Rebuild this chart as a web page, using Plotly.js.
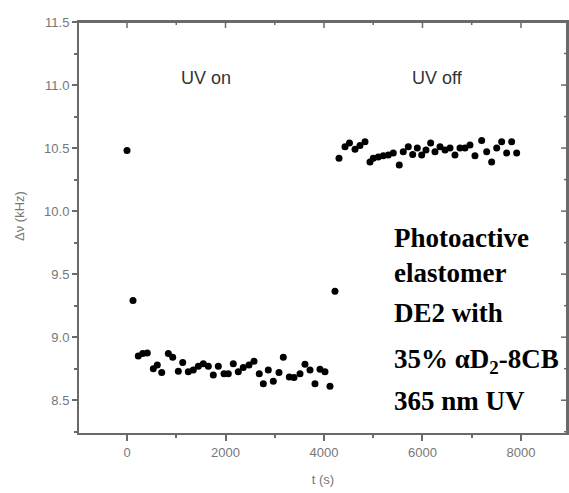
<!DOCTYPE html>
<html>
<head>
<meta charset="utf-8">
<script src="https://cdn.plot.ly/plotly-3.0.1.min.js"></script>
<style>html,body{margin:0;padding:0;background:#fff;}#chart{width:569px;height:493px;}#err{position:absolute;left:90px;top:420px;font:10px sans-serif;color:red;}</style>
</head>
<body>
<div id="chart"></div>
<div id="err"></div>
<script>
window.onerror = function (m) { document.getElementById('err').textContent += ' ERR:' + m; };
window.addEventListener('unhandledrejection', function (e) { document.getElementById('err').textContent += ' REJ:' + (e.reason && e.reason.message); });
// Time (s) and frequency splitting (kHz)
var timeS = [0,122,229,319,412,534,615,705,839,928,1042,1131,1245,1346,1448,1549,1651,1752,1854,1970,2057,2158,2260,2361,2477,2579,2686,2768,2869,2971,3086,3174,3296,3391,3513,3614,3716,3817,3919,4020,4122,
  4223,
  4305,4427,4518,4630,4731,4833,4934,5001,5103,5204,5306,5407,5529,5610,5712,5801,5895,5984,6071,6166,6254,6356,6457,6559,6660,6762,6863,6965,7066,7202,7304,7405,7507,7608,7710,7811,7913];
var deltaNu = [10.48,9.29,8.85,8.87,8.875,8.75,8.78,8.72,8.87,8.84,8.73,8.80,8.725,8.74,8.77,8.79,8.77,8.70,8.77,8.71,8.71,8.79,8.725,8.76,8.78,8.81,8.71,8.63,8.74,8.65,8.72,8.84,8.685,8.68,8.71,8.785,8.74,8.63,8.745,8.725,8.61,
  9.365,
  10.42,10.51,10.54,10.49,10.52,10.55,10.39,10.42,10.43,10.44,10.445,10.46,10.365,10.47,10.51,10.45,10.50,10.445,10.485,10.54,10.47,10.51,10.485,10.50,10.445,10.50,10.50,10.525,10.44,10.56,10.47,10.39,10.50,10.55,10.46,10.55,10.46];

// Tick values for the mirrored (inward) top and right ticks
var xMajorTicks = [0, 2000, 4000, 6000, 8000];
var xMinorTicks = [1000, 3000, 5000, 7000];
var yMajorTicks = [8.5, 9.0, 9.5, 10.0, 10.5, 11.0, 11.5];
var yMinorTicks = [8.25, 8.75, 9.25, 9.75, 10.25, 10.75, 11.25];

var xTitle = 't (s)';
var yTitle = 'Δν (kHz)';
var labelOn = 'UV on';
var labelOff = 'UV off';
var infoLines = ['Photoactive', 'elastomer', 'DE2 with', '35% αD<sub>2</sub>-8CB', '365 nm UV'];
var infoY = [9.786, 9.508, 9.19, 8.81, 8.492];

var axisColor = '#6a6a6a';
var tickFont = {family: 'Liberation Sans, Arial, sans-serif', size: 13, color: '#777'};
var xr = [-975, 8935], yr = [8.24, 11.5];
var plotW = 488, plotH = 411;

var traces = [
  {x: timeS, y: deltaNu, type: 'scatter', mode: 'markers',
   marker: {color: '#000', size: 7}, hoverinfo: 'x+y'}
];

var annotations = [
  {text: labelOn, x: 1604, y: 11.056, xref: 'x', yref: 'y', showarrow: false,
   font: {family: 'Liberation Sans, Arial, sans-serif', size: 18, color: '#333'}},
  {text: labelOff, x: 6295, y: 11.056, xref: 'x', yref: 'y', showarrow: false,
   font: {family: 'Liberation Sans, Arial, sans-serif', size: 18, color: '#333'}},
  {text: yTitle, x: -0.121, y: 0.528, xref: 'paper', yref: 'paper', xanchor: 'center', yanchor: 'middle',
   showarrow: false, textangle: -90,
   font: {family: 'Liberation Sans, Arial, sans-serif', size: 13, color: '#777'}}
];
infoLines.forEach(function (t, i) {
  annotations.push({text: '<b>' + t + '</b>', x: 5380, y: infoY[i], xref: 'x', yref: 'y',
    xanchor: 'left', yanchor: 'middle', showarrow: false,
    font: {family: 'Liberation Serif, Times New Roman, serif', size: 27, color: '#000'}});
});

var shapes = [
  {type: 'line', xref: 'paper', yref: 'paper', x0: 0, x1: 1, y0: 1, y1: 1, line: {color: axisColor, width: 2}},
  {type: 'line', xref: 'paper', yref: 'paper', x0: 1, x1: 1, y0: 0, y1: 1, line: {color: axisColor, width: 2}}
];
function topTick(v, len) {
  shapes.push({type: 'line', xref: 'x', yref: 'paper', x0: v, x1: v, y0: 1, y1: 1 - len / plotH,
    line: {color: axisColor, width: 1.5}});
}
function rightTick(v, len) {
  shapes.push({type: 'line', xref: 'paper', yref: 'y', x0: 1, x1: 1 - len / plotW, y0: v, y1: v,
    line: {color: axisColor, width: 1.5}});
}
xMajorTicks.forEach(function (v) { topTick(v, 6); });
xMinorTicks.forEach(function (v) { topTick(v, 3); });
yMajorTicks.forEach(function (v) { rightTick(v, 6); });
yMinorTicks.forEach(function (v) { rightTick(v, 3); });

var layout = {
  width: 569, height: 493,
  margin: {l: 79, r: 2, t: 22, b: 60, pad: 0},
  paper_bgcolor: '#fff', plot_bgcolor: '#fff',
  showlegend: false,
  xaxis: {range: xr, tick0: 0, dtick: 2000, ticks: 'outside', ticklen: 6, tickwidth: 1.5, tickcolor: axisColor,
    showline: true, mirror: true, linecolor: axisColor, linewidth: 2, showgrid: false, zeroline: false,
    tickfont: tickFont,
    minor: {dtick: 1000, tick0: 0, ticks: 'outside', ticklen: 3, tickcolor: axisColor, tickwidth: 1.5},
    title: {text: xTitle, font: {family: 'Liberation Sans, Arial, sans-serif', size: 13, color: '#777'}, standoff: 16}},
  yaxis: {range: yr, tick0: 8.5, dtick: 0.5, tickformat: '.1f', ticks: 'outside', ticklen: 5, tickwidth: 1.5, tickcolor: axisColor,
    showline: true, mirror: true, linecolor: axisColor, linewidth: 2, showgrid: false, zeroline: false,
    tickfont: tickFont,
    minor: {dtick: 0.25, tick0: 8.5, ticks: 'outside', ticklen: 3, tickcolor: axisColor, tickwidth: 1.5}},
  shapes: shapes,
  annotations: annotations
};

try {
  var p = Plotly.newPlot('chart', traces, layout, {displayModeBar: false});
  if (p && p.catch) p.catch(function (e) { document.getElementById('err').textContent += ' P:' + (e && e.message); });
} catch (e) {
  document.getElementById('err').textContent += ' T:' + e.message;
}
</script>
</body>
</html>
